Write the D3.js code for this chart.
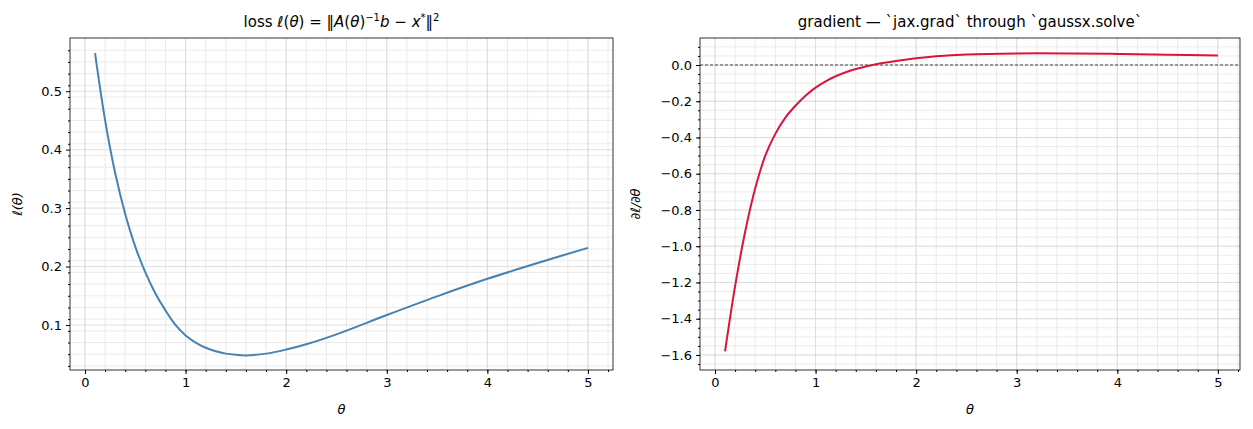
<!DOCTYPE html><html><head><meta charset="utf-8">
<script src="https://cdn.jsdelivr.net/npm/d3@7"></script>
<style>body{margin:0;background:#fff}text{font-family:"DejaVu Sans",sans-serif;fill:#000}</style></head>
<body><svg id="c" width="1253" height="429"></svg>
<script>
const theta=[0.1,0.2,0.3,0.4,0.5,0.6,0.7,0.8,0.9,1.0,1.1,1.2,1.3,1.4,1.5,1.6,1.8,2.0,2.2,2.5,3.0,3.5,4.0,4.5,5.0];
const loss=[0.565,0.45,0.36,0.29,0.234,0.19,0.154,0.125,0.1,0.082,0.07,0.061,0.055,0.051,0.049,0.048,0.051,0.058,0.067,0.084,0.117,0.149,0.179,0.206,0.232];
const grad=[-1.58,-1.22,-0.92,-0.68,-0.50,-0.38,-0.29,-0.225,-0.17,-0.125,-0.09,-0.062,-0.04,-0.022,-0.008,0.004,0.022,0.037,0.048,0.058,0.064,0.064,0.061,0.057,0.053];
const xTicks=[0,1,2,3,4,5];
const lossTicks=[0.1,0.2,0.3,0.4,0.5];
const gradTicks=[0.0,-0.2,-0.4,-0.6,-0.8,-1.0,-1.2,-1.4,-1.6];
const svg=d3.select("#c");
function panel(o){
  const g=svg.append("g");
  const x=d3.scaleLinear().domain(o.xd).range([o.l,o.r]);
  const y=d3.scaleLinear().domain(o.yd).range([o.b,o.t]);
  const xm=d3.range(-0.0,5.21,0.2), ym=d3.range(o.ym[0],o.ym[1],o.ym[2]);
  g.selectAll(".gx").data(xm).join("line").attr("x1",d=>x(d)).attr("x2",d=>x(d)).attr("y1",o.t).attr("y2",o.b).attr("stroke","#e2e2e2").attr("stroke-width",0.7);
  g.selectAll(".gy").data(ym).join("line").attr("y1",d=>y(d)).attr("y2",d=>y(d)).attr("x1",o.l).attr("x2",o.r).attr("stroke","#e2e2e2").attr("stroke-width",0.7);
  g.selectAll(".Gx").data(xTicks).join("line").attr("x1",d=>x(d)).attr("x2",d=>x(d)).attr("y1",o.t).attr("y2",o.b).attr("stroke","#d8d8d8").attr("stroke-width",0.8);
  g.selectAll(".Gy").data(o.yt).join("line").attr("y1",d=>y(d)).attr("y2",d=>y(d)).attr("x1",o.l).attr("x2",o.r).attr("stroke","#d8d8d8").attr("stroke-width",0.8);
  if(o.zero) g.append("line").attr("x1",o.l).attr("x2",o.r).attr("y1",y(0)).attr("y2",y(0)).attr("stroke","#000").attr("stroke-width",0.7).attr("stroke-dasharray","3,2");
  g.append("path").datum(theta.map((t,i)=>[t,o.v[i]])).attr("fill","none").attr("stroke",o.c).attr("stroke-width",2)
   .attr("d",d3.line().x(d=>x(d[0])).y(d=>y(d[1])).curve(d3.curveCatmullRom.alpha(0.5)));
  g.append("g").attr("transform",`translate(0,${o.b})`).call(d3.axisBottom(x).tickValues(xTicks).tickFormat(d3.format("d")).tickSize(4).tickPadding(4));
  g.append("g").attr("transform",`translate(0,${o.b})`).call(d3.axisBottom(x).tickValues(xm).tickFormat("").tickSize(2));
  g.append("g").attr("transform",`translate(${o.l},0)`).call(d3.axisLeft(y).tickValues(o.yt).tickFormat(d=>d3.format(".1f")(d).replace("-","−")).tickSize(4).tickPadding(4));
  g.append("g").attr("transform",`translate(${o.l},0)`).call(d3.axisLeft(y).tickValues(ym).tickFormat("").tickSize(2));
  g.selectAll(".domain").remove();
  g.selectAll(".tick text").attr("font-size",13).attr("font-family","DejaVu Sans");
  g.append("rect").attr("x",o.l).attr("y",o.t).attr("width",o.r-o.l).attr("height",o.b-o.t).attr("fill","none").attr("stroke","#000").attr("stroke-width",0.8);
  g.append("text").attr("x",(o.l+o.r)/2).attr("y",27).attr("text-anchor","middle").attr("font-size",15).html(o.title);
  g.append("text").attr("x",(o.l+o.r)/2).attr("y",414).attr("text-anchor","middle").attr("font-size",13).attr("font-style","italic").text("θ");
  g.append("text").attr("transform",`translate(${o.yl},${(o.t+o.b)/2}) rotate(-90)`).attr("text-anchor","middle").attr("font-size",13).attr("font-style","italic").text(o.ylab);
}
panel({l:70,r:613,t:38,b:370,xd:[-0.149,5.249],yd:[0.023,0.591],yt:lossTicks,ym:[0.03,0.59,0.02],v:loss,c:"#4682b4",
 title:'loss <tspan font-style="italic">ℓ</tspan>(<tspan font-style="italic">θ</tspan>) = ‖<tspan font-style="italic">A</tspan>(<tspan font-style="italic">θ</tspan>)<tspan dy="-6" font-size="10">−1</tspan><tspan dy="6" font-style="italic">b</tspan> − <tspan font-style="italic">x</tspan><tspan dy="-6" font-size="10">*</tspan><tspan dy="6">‖</tspan><tspan dy="-6" font-size="10">2</tspan>',ylab:"ℓ(θ)",yl:22});
panel({l:700,r:1240,t:38,b:370,xd:[-0.149,5.22],yd:[-1.683,0.149],yt:gradTicks,ym:[-1.65,0.14,0.05],v:grad,c:"#dc143c",zero:true,
 title:'gradient — `jax.grad` through `gaussx.solve`',ylab:"∂ℓ/∂θ",yl:640});
</script></body></html>
